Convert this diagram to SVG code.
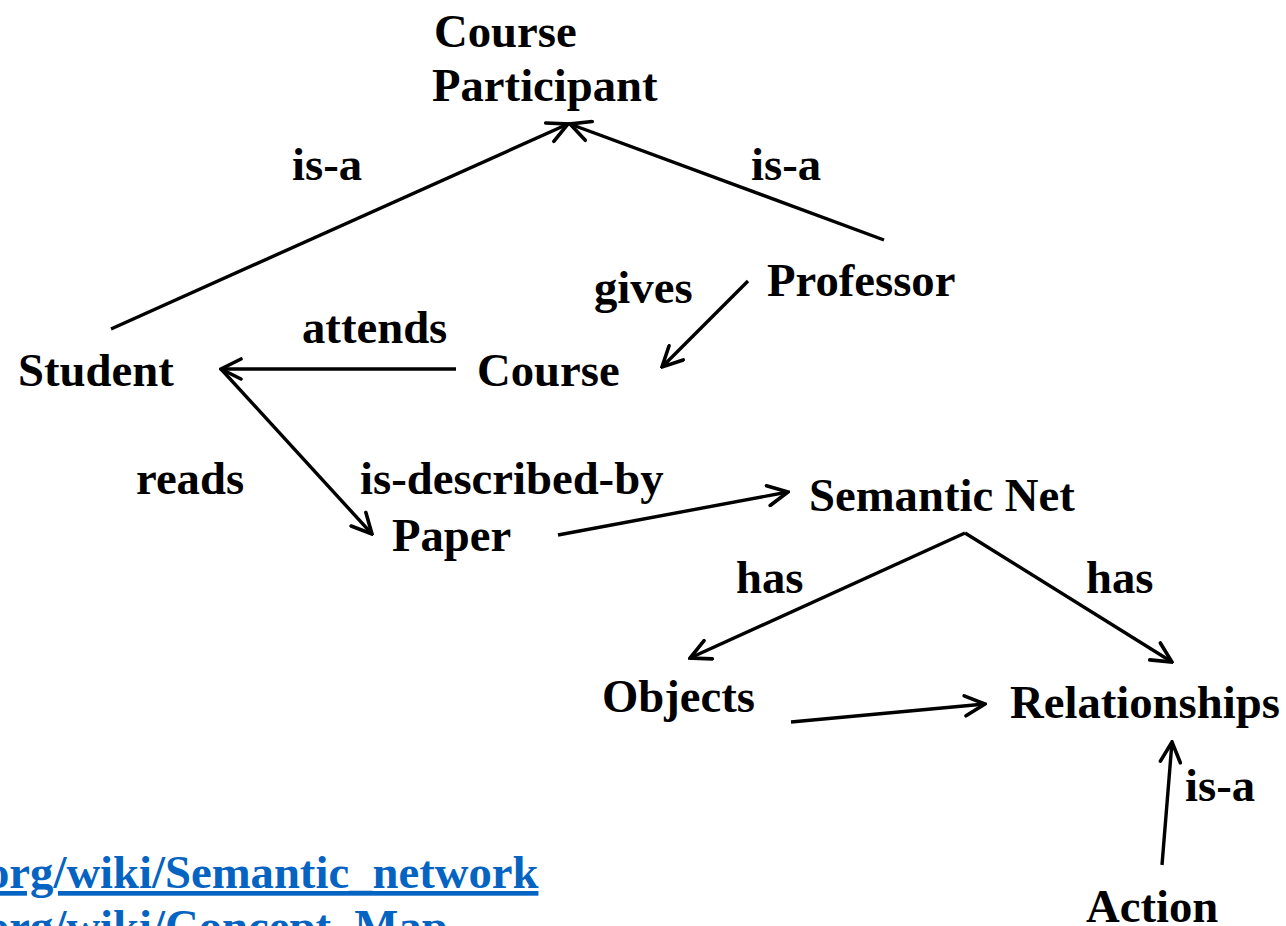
<svg xmlns="http://www.w3.org/2000/svg" width="1286" height="926" viewBox="0 0 1286 926">
  <style>
    .lbl { font-family: "Liberation Serif", "Times New Roman", serif; font-weight: bold; font-size: 46.7px; fill: #000; }
    .link { font-family: "Liberation Serif", "Times New Roman", serif; font-weight: bold; font-size: 46.7px; fill: #0563C1; text-decoration: underline; }
    .edge { stroke: #000; stroke-width: 3.4; fill: none; marker-end: url(#arrow); }
  </style>
  <defs>
    <marker id="arrow" viewBox="0 0 24 24" refX="22" refY="12" markerWidth="24" markerHeight="24" markerUnits="userSpaceOnUse" orient="auto">
      <path d="M2,2 L22,12 L2,22" fill="none" stroke="#000" stroke-width="3.6" stroke-linecap="round" stroke-linejoin="miter"/>
    </marker>
  </defs>
  <rect width="1286" height="926" fill="#fff"/>

  <g id="connectors">
    <line class="edge" x1="111" y1="329" x2="568" y2="124"/>
    <line class="edge" x1="884" y1="240" x2="570" y2="124"/>
    <line class="edge" x1="456" y1="369" x2="221" y2="369"/>
    <line class="edge" x1="221" y1="369" x2="372" y2="534"/>
    <line class="edge" x1="748" y1="281" x2="662" y2="367"/>
    <line class="edge" x1="558" y1="535" x2="788" y2="492"/>
    <line class="edge" x1="965" y1="533" x2="690" y2="658"/>
    <line class="edge" x1="965" y1="533" x2="1172" y2="662"/>
    <line class="edge" x1="791" y1="722" x2="985" y2="704"/>
    <line class="edge" x1="1162" y1="865" x2="1172" y2="742"/>
  </g>

  <g id="edge-labels">
    <text class="lbl" x="292" y="180">is-a</text>
    <text class="lbl" x="751" y="180">is-a</text>
    <text class="lbl" x="594" y="303">gives</text>
    <text class="lbl" x="302" y="343">attends</text>
    <text class="lbl" x="136" y="494">reads</text>
    <text class="lbl" x="360" y="494">is-described-by</text>
    <text class="lbl" x="736" y="593">has</text>
    <text class="lbl" x="1086" y="593">has</text>
    <text class="lbl" x="1185" y="801">is-a</text>
  </g>

  <g id="node-course-participant">
    <text class="lbl" x="434" y="47">Course</text>
    <text class="lbl" x="432" y="101">Participant</text>
  </g>
  <g id="node-professor"><text class="lbl" x="767" y="296">Professor</text></g>
  <g id="node-student"><text class="lbl" x="18" y="386">Student</text></g>
  <g id="node-course"><text class="lbl" x="477" y="386">Course</text></g>
  <g id="node-paper"><text class="lbl" x="392" y="551">Paper</text></g>
  <g id="node-semantic-net"><text class="lbl" x="809" y="511">Semantic Net</text></g>
  <g id="node-objects"><text class="lbl" x="602" y="712">Objects</text></g>
  <g id="node-relationships"><text class="lbl" x="1010" y="718">Relationships</text></g>
  <g id="node-action"><text class="lbl" x="1086" y="922">Action</text></g>

  <g id="references">
    <text class="link" x="-14" y="888">org/wiki/Semantic_network</text>
    <text class="link" x="-14" y="942">org/wiki/Concept_Map</text>
  </g>
</svg>
